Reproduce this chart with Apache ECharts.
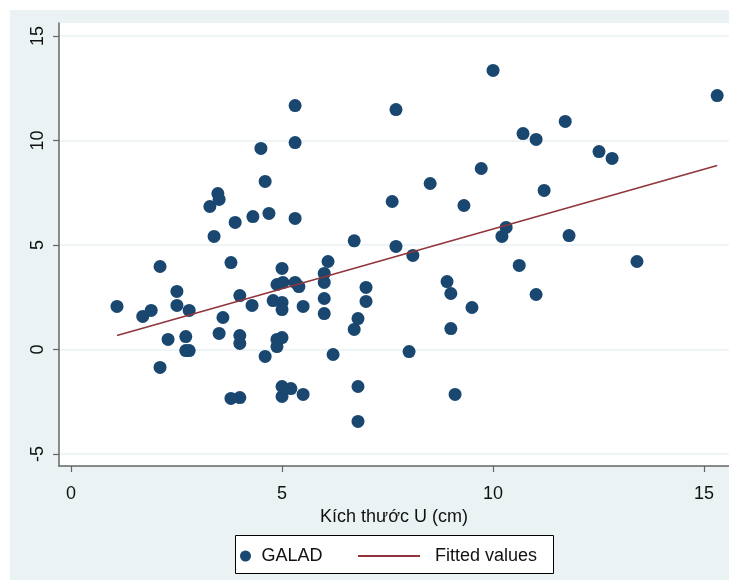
<!DOCTYPE html>
<html>
<head>
<meta charset="utf-8">
<script src="https://cdn.jsdelivr.net/npm/echarts@6/dist/echarts.min.js"></script>
<style>
  html, body { margin: 0; padding: 0; background: #ffffff; }
  #chart { position: absolute; left: 10px; top: 10px; width: 719px; height: 570px; }
</style>
</head>
<body>
<div id="chart"></div>
<script>
// Tumour size (cm) vs GALAD score
const sizeCm = [
  1.09, 1.70, 1.90, 2.11, 2.30, 2.11, 2.51, 2.51, 2.80, 2.72,
  2.72, 2.80, 3.39, 3.79, 4.00, 3.60, 3.51, 4.00, 4.00, 3.79,
  4.00, 4.29, 6.71, 7.70, 8.10, 6.09, 5.00, 6.00, 6.00, 4.88,
  5.02, 5.31, 5.40, 6.99, 6.99, 6.00, 6.00, 4.79, 5.00, 5.00,
  5.50, 6.80, 6.71, 5.00, 4.88, 4.88, 4.60, 6.21, 8.01, 8.91,
  9.00, 9.50, 9.00, 5.00, 5.21, 5.00, 5.50, 6.80, 6.80, 9.10,
  5.31, 5.31, 4.50, 4.60, 4.31, 4.69, 5.31, 7.70, 7.61, 8.51,
  9.31, 9.72, 10.00, 10.71, 11.02, 11.71, 12.51, 12.82, 15.31, 11.21,
  10.31, 10.21, 11.80, 10.62, 11.02, 13.41, 3.29, 3.48, 3.51, 3.89
];
const galad = [
  2.06, 1.58, 1.87, 3.97, 0.48, -0.86, 2.78, 2.11, 1.87, 0.62,
  -0.05, -0.05, 5.41, 4.16, 2.58, 1.53, 0.77, 0.67, 0.29, -2.34,
  -2.30, 2.11, 5.20, 4.93, 4.50, 4.21, 3.88, 3.64, 3.21, 3.11,
  3.21, 3.21, 3.01, 2.97, 2.30, 2.44, 1.72, 2.34, 2.25, 1.91,
  2.06, 1.48, 0.96, 0.57, 0.48, 0.14, -0.33, -0.24, -0.10, 3.25,
  2.68, 2.01, 1.00, -1.77, -1.87, -2.25, -2.15, -1.77, -3.44, -2.15,
  11.67, 9.90, 9.62, 8.04, 6.36, 6.51, 6.27, 11.48, 7.08, 7.94,
  6.89, 8.66, 13.35, 10.33, 10.05, 10.91, 9.47, 9.14, 12.15, 7.61,
  5.84, 5.41, 5.45, 4.02, 2.63, 4.21, 6.84, 7.46, 7.18, 6.08
];
// Fitted regression line, end points
const fitX = [1.09, 15.31];
const fitY = [0.67, 8.80];

const xTicks = [0, 5, 10, 15];
const yTicks = [-5, 0, 5, 10, 15];

const scatterData = sizeCm.map((x, i) => [x, galad[i]]);
const fitData = fitX.map((x, i) => [x, fitY[i]]);

const FONT = '"Liberation Sans", Arial, sans-serif';
const AXIS_COL = '#666666';
const BG = '#EAF2F3';
const FS = 18;

const chart = echarts.init(document.getElementById('chart'), null, { renderer: 'canvas' });
chart.setOption({
  backgroundColor: BG,
  animation: false,
  textStyle: { fontFamily: FONT },
  graphic: [{
    type: 'rect', left: 225, top: 525, z: 1,
    shape: { width: 318, height: 38 },
    style: { fill: '#ffffff', stroke: '#000000', lineWidth: 1 }
  }],
  grid: {
    left: 49, right: 0, top: 13, bottom: 114,
    show: true, backgroundColor: '#ffffff', borderWidth: 0
  },
  xAxis: {
    type: 'value', min: -0.284, max: 15.59,
    name: 'Kích thước U (cm)', nameLocation: 'middle', nameGap: 40,
    nameTextStyle: { fontSize: FS, color: '#111', fontFamily: FONT },
    axisLine: { show: true, onZero: false, lineStyle: { color: AXIS_COL, width: 1.5 } },
    axisTick: { show: true, length: 6, customValues: xTicks, lineStyle: { color: AXIS_COL, width: 1.2 } },
    axisLabel: { customValues: xTicks, fontSize: FS, color: '#111', margin: 19, fontFamily: FONT },
    splitLine: { show: false }
  },
  yAxis: {
    type: 'value', min: -5.574, max: 15.62,
    axisLine: { show: true, onZero: false, lineStyle: { color: AXIS_COL, width: 1.5 } },
    axisTick: { show: true, length: 6, customValues: yTicks, lineStyle: { color: AXIS_COL, width: 1.2 } },
    axisLabel: { customValues: yTicks, rotate: 90, fontSize: FS, color: '#111', margin: 12, fontFamily: FONT },
    splitLine: { show: true, lineStyle: { color: BG, width: 1.5 } }
  },
  legend: [{
    data: ['GALAD'], left: 230, top: 537, padding: 0,
    itemWidth: 22, itemHeight: 11,
    textStyle: { fontSize: FS, color: '#111', fontFamily: FONT }
  }, {
    data: [{ name: 'Fitted values', icon: 'rect' }], left: 348, top: 537, padding: 0,
    itemWidth: 62, itemHeight: 2,
    textStyle: { fontSize: FS, color: '#111', fontFamily: FONT, padding: [0, 0, 0, 10] }
  }],
  series: [{
    name: 'GALAD', type: 'scatter', data: scatterData,
    symbol: 'circle', symbolSize: 13,
    itemStyle: { color: '#1A476F', opacity: 1 }
  }, {
    name: 'Fitted values', type: 'line', data: fitData,
    symbol: 'none', showSymbol: false,
    lineStyle: { color: '#90353B', width: 1.6 },
    itemStyle: { color: '#90353B' }
  }]
});
</script>
</body>
</html>
